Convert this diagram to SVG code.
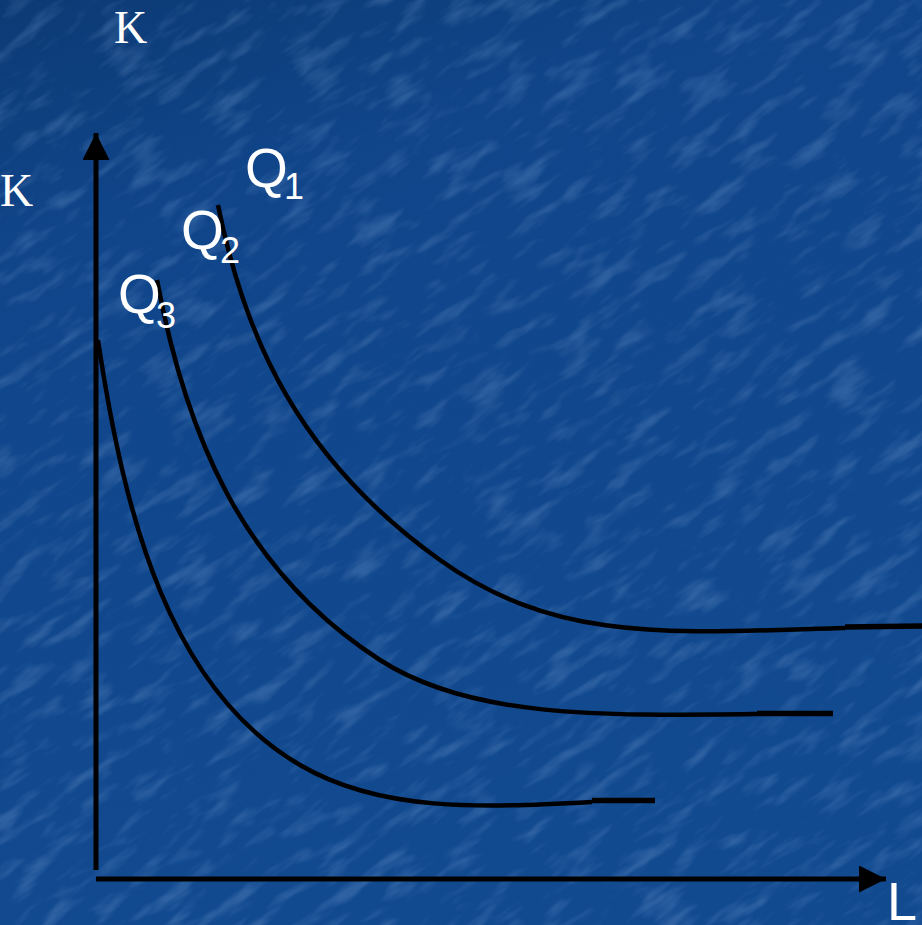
<svg xmlns="http://www.w3.org/2000/svg" width="922" height="925" viewBox="0 0 922 925">
<defs>
<linearGradient id="bg" x1="0" y1="0" x2="0.3" y2="1">
<stop offset="0" stop-color="#0c3a74"/>
<stop offset="0.25" stop-color="#10458a"/>
<stop offset="1" stop-color="#124a90"/>
</linearGradient>
<filter id="tex" x="0" y="0" width="100%" height="100%">
<feTurbulence type="fractalNoise" baseFrequency="0.02 0.07" numOctaves="3" seed="4" result="n"/>
<feColorMatrix in="n" type="matrix" values="0 0 0 0 0.35  0 0 0 0 0.55  0 0 0 0 0.85  0 0 0 3 -1.5" result="c"/>
<feComposite in="c" in2="SourceGraphic" operator="in"/>
</filter>
<marker id="ah" viewBox="0 0 10 10" refX="10" refY="5" markerWidth="7" markerHeight="5.4" markerUnits="strokeWidth" orient="auto">
<path d="M0,0 L10,5 L0,10 Z" fill="#000"/>
</marker>
<style>
.curve{fill:none;stroke:#000;stroke-width:4.5;stroke-linecap:butt}
.axis{fill:none;stroke:#000;stroke-width:5}
.serif{font-family:"Liberation Serif","Times New Roman",serif;fill:#fff;font-size:46px}
.sans{font-family:"Liberation Sans",Arial,sans-serif;fill:#fff}
</style>
</defs>
<rect width="922" height="925" fill="url(#bg)"/>
<g transform="rotate(-35 461 462)" opacity="0.2">
<rect x="-300" y="-300" width="1522" height="1525" fill="#fff" filter="url(#tex)"/>
</g>
<g id="connectors">
<path class="axis" d="M96,870 L96,133" marker-end="url(#ah)"/>
<path class="axis" d="M96,879 L886,879" marker-end="url(#ah)"/>
</g>
<g id="curve-q1">
<path class="curve" d="M218,205 C245,340 300,460 440,560 C560,646 680,632 845,628"/>
<path class="curve" d="M845,627 L922,626" style="stroke-width:5.5"/>
</g>
<g id="curve-q2">
<path class="curve" d="M157,280 C185,430 240,570 380,660 C470,718 600,716 757,714"/>
<path class="curve" d="M757,713.5 L833,713.5" style="stroke-width:5.5"/>
</g>
<g id="curve-q3">
<path class="curve" d="M98,340 C125,520 170,689 300,765 C380,812 480,808 592,802"/>
<path class="curve" d="M592,800.5 L655,800.5" style="stroke-width:5.5"/>
</g>
<g id="label-k-top"><text class="serif" x="114" y="43">K</text></g>
<g id="label-k-left"><text class="serif" x="0" y="206">K</text></g>
<g id="label-q1"><text class="sans" x="245" y="187" font-size="55">Q</text><text class="sans" x="284" y="199" font-size="36">1</text></g>
<g id="label-q2"><text class="sans" x="181" y="249" font-size="55">Q</text><text class="sans" x="220" y="263" font-size="36">2</text></g>
<g id="label-q3"><text class="sans" x="118" y="313" font-size="55">Q</text><text class="sans" x="156" y="328" font-size="36">3</text></g>
<g id="label-l"><text class="sans" x="887" y="920" font-size="54">L</text></g>
</svg>
